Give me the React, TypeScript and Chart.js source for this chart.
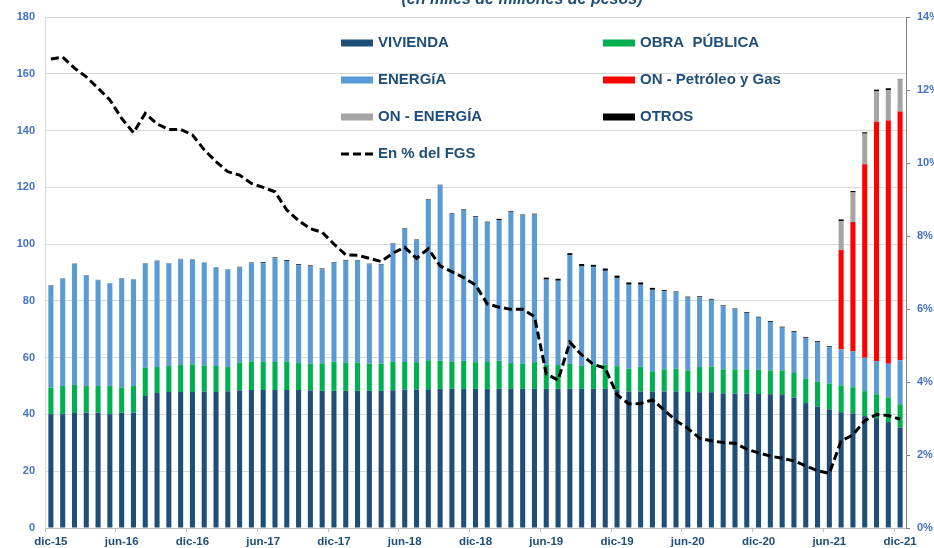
import React, { useEffect, useRef } from "react";
import { Chart, registerables } from "chart.js";

Chart.register(...registerables);

const months = [
  "dic-15",
  "ene-16", "feb-16", "mar-16", "abr-16", "may-16", "jun-16", "jul-16", "ago-16", "sep-16", "oct-16", "nov-16", "dic-16",
  "ene-17", "feb-17", "mar-17", "abr-17", "may-17", "jun-17", "jul-17", "ago-17", "sep-17", "oct-17", "nov-17", "dic-17",
  "ene-18", "feb-18", "mar-18", "abr-18", "may-18", "jun-18", "jul-18", "ago-18", "sep-18", "oct-18", "nov-18", "dic-18",
  "ene-19", "feb-19", "mar-19", "abr-19", "may-19", "jun-19", "jul-19", "ago-19", "sep-19", "oct-19", "nov-19", "dic-19",
  "ene-20", "feb-20", "mar-20", "abr-20", "may-20", "jun-20", "jul-20", "ago-20", "sep-20", "oct-20", "nov-20", "dic-20",
  "ene-21", "feb-21", "mar-21", "abr-21", "may-21", "jun-21", "jul-21", "ago-21", "sep-21", "oct-21", "nov-21", "dic-21",
];

const vivienda = [
  40.1, 40.1, 40.5, 40.6, 40.6, 40.1, 40.6, 40.6, 46.5, 47.6, 47.9, 47.9, 47.9,
  48.0, 47.9, 48.2, 48.4, 48.6, 48.6, 48.6, 48.6, 48.6, 48.4, 48.3, 48.3,
  48.3, 48.3, 48.3, 48.3, 48.5, 48.8, 48.8, 48.9, 49.0, 49.0, 49.0, 49.0,
  49.0, 49.0, 49.0, 49.0, 49.0, 49.0, 49.0, 49.0, 49.0, 49.0, 49.0, 48.6,
  48.1, 48.1, 48.1, 48.1, 48.1, 47.9, 47.8, 47.8, 47.5, 47.4, 47.4, 47.2,
  47.1, 46.9, 46.0, 44.0, 42.8, 41.8, 40.8, 40.4, 39.4, 38.7, 37.3, 35.4,
];

const obraPublica = [
  9.4, 9.9, 9.9, 9.4, 9.4, 9.9, 8.9, 9.4, 9.9, 9.1, 9.2, 9.5, 9.7,
  9.1, 9.2, 8.5, 9.8, 10.1, 9.9, 9.9, 10.1, 9.5, 9.5, 9.7, 10.3,
  10.0, 10.0, 9.6, 9.6, 10.0, 9.7, 9.6, 10.2, 9.9, 9.6, 9.9, 9.4,
  9.5, 9.9, 9.1, 8.9, 9.4, 8.6, 8.4, 8.8, 8.1, 8.4, 8.5, 8.4,
  8.0, 8.7, 7.1, 7.8, 8.0, 7.6, 8.9, 9.1, 8.4, 8.5, 8.5, 8.6,
  8.4, 8.6, 8.6, 8.7, 8.8, 9.1, 9.4, 9.2, 8.8, 8.4, 8.7, 8.2,
];

const energia = [
  36.0, 37.8, 42.6, 39.0, 37.3, 36.1, 38.4, 37.5, 36.8, 37.4, 36.1, 37.3, 37.0,
  36.3, 34.7, 34.3, 33.6, 34.6, 34.8, 36.5, 35.4, 34.5, 34.4, 33.2, 34.9,
  35.8, 35.9, 35.0, 34.9, 41.5, 46.8, 43.0, 56.5, 61.8, 51.9, 53.2, 51.1,
  49.1, 49.6, 53.3, 52.2, 52.0, 29.9, 29.7, 38.3, 35.2, 34.6, 33.1, 31.1,
  29.6, 28.9, 28.7, 27.5, 26.9, 25.7, 24.6, 23.5, 22.2, 21.1, 19.9, 18.3,
  17.1, 15.1, 14.5, 14.3, 13.9, 12.8, 12.7, 12.6, 11.8, 11.7, 11.9, 15.5,
];

const onPetroleoGas = [
  0, 0, 0, 0, 0, 0, 0, 0, 0, 0, 0, 0, 0,
  0, 0, 0, 0, 0, 0, 0, 0, 0, 0, 0, 0,
  0, 0, 0, 0, 0, 0, 0, 0, 0, 0, 0, 0,
  0, 0, 0, 0, 0, 0, 0, 0, 0, 0, 0, 0,
  0, 0, 0, 0, 0, 0, 0, 0, 0, 0, 0, 0,
  0, 0, 0, 0, 0, 0, 35.0, 45.6, 68.1, 84.3, 85.6, 87.6,
];

const onEnergia = [
  0, 0, 0, 0, 0, 0, 0, 0, 0, 0, 0, 0, 0,
  0, 0, 0, 0, 0, 0, 0, 0, 0, 0, 0, 0,
  0, 0, 0, 0, 0, 0, 0, 0, 0, 0, 0, 0,
  0, 0, 0, 0, 0, 0, 0, 0, 0, 0, 0, 0,
  0, 0, 0, 0, 0, 0, 0, 0, 0, 0, 0, 0,
  0, 0, 0, 0, 0, 0, 10.2, 10.4, 10.8, 10.7, 10.7, 11.3,
];

const otros = [
  0.1, 0.1, 0.1, 0.1, 0.1, 0.1, 0.1, 0.1, 0.1, 0.1, 0.1, 0.1, 0.1,
  0.1, 0.1, 0.1, 0.2, 0.2, 0.3, 0.3, 0.3, 0.3, 0.2, 0.2, 0.2,
  0.2, 0.2, 0.2, 0.2, 0.2, 0.2, 0.2, 0.2, 0.2, 0.3, 0.2, 0.3,
  0.3, 0.4, 0.3, 0.3, 0.3, 0.7, 0.7, 0.7, 0.7, 0.7, 0.8, 0.8,
  0.8, 0.8, 0.7, 0.4, 0.3, 0.3, 0.3, 0.3, 0.3, 0.3, 0.3, 0.3,
  0.3, 0.3, 0.3, 0.3, 0.3, 0.3, 0.6, 0.5, 0.5, 0.6, 0.7, 0.2,
];

const pctFGS = [
  12.85, 12.9, 12.6, 12.36, 12.05, 11.73, 11.22, 10.83, 11.36, 11.07, 10.92, 10.92, 10.77,
  10.36, 10.04, 9.76, 9.67, 9.44, 9.33, 9.21, 8.71, 8.42, 8.2, 8.1, 7.78,
  7.48, 7.47, 7.39, 7.3, 7.53, 7.69, 7.39, 7.65, 7.18, 7.02, 6.86, 6.66,
  6.14, 6.05, 5.99, 5.99, 5.79, 4.22, 4.05, 5.09, 4.74, 4.48, 4.38, 3.65,
  3.4, 3.41, 3.51, 3.23, 2.94, 2.73, 2.46, 2.39, 2.34, 2.32, 2.16, 2.06,
  1.97, 1.91, 1.84, 1.7, 1.57, 1.5, 2.39, 2.55, 2.94, 3.11, 3.08, 2.98,
];

const leftTicksStep = 20;
const rightTicksStep = 2;
const titleText = "(en miles de millones de pesos)";

const FONT = '"Liberation Sans", Arial, sans-serif';
const NAVY = "#1F4E79";
const TICK_BLUE = "#4472C4";

export default function App() {
  const ref = useRef<HTMLCanvasElement>(null);

  useEffect(() => {
    if (!ref.current) return;

    const titlePlugin = {
      id: "cutTitle",
      afterDraw(chart: any) {
        const ctx = chart.ctx;
        ctx.save();
        ctx.font = `italic bold 16px ${FONT}`;
        ctx.fillStyle = NAVY;
        ctx.textAlign = "center";
        ctx.textBaseline = "alphabetic";
        ctx.fillText(titleText, 522, 4);
        ctx.restore();
      },
    };

    const legendSlots = [
      { x: 341, y: 43 }, { x: 603, y: 43 },
      { x: 341, y: 80 }, { x: 603, y: 80 },
      { x: 341, y: 117 }, { x: 603, y: 117 },
      { x: 341, y: 154 },
    ];
    const legendOrder = [0, 1, 2, 3, 4, 5, 6];

    const legendPlugin = {
      id: "insideLegend",
      afterDraw(chart: any) {
        const ctx = chart.ctx;
        ctx.save();
        legendOrder.forEach((dsIndex, k) => {
          const ds = chart.data.datasets[dsIndex];
          const slot = legendSlots[k];
          if (ds.type === "line") {
            ctx.strokeStyle = ds.borderColor;
            ctx.lineWidth = 3;
            ctx.setLineDash([8, 4]);
            ctx.beginPath();
            ctx.moveTo(slot.x, slot.y);
            ctx.lineTo(slot.x + 32, slot.y);
            ctx.stroke();
            ctx.setLineDash([]);
          } else {
            ctx.fillStyle = ds.backgroundColor;
            ctx.fillRect(slot.x, slot.y - 3.5, 32, 7);
          }
          ctx.font = `bold 15px ${FONT}`;
          ctx.fillStyle = NAVY;
          ctx.textAlign = "left";
          ctx.textBaseline = "middle";
          ctx.fillText(ds.label, slot.x + 37, slot.y);
        });
        ctx.restore();
      },
    };

    const barCommon = {
      type: "bar" as const,
      yAxisID: "y",
      barPercentage: 0.43,
      categoryPercentage: 1.0,
      borderWidth: 0,
      order: 1,
    };

    const chart = new Chart(ref.current, {
      type: "bar",
      data: {
        labels: months,
        datasets: [
          { ...barCommon, label: "VIVIENDA", data: vivienda, backgroundColor: "#1F4E79" },
          { ...barCommon, label: "OBRA  PÚBLICA", data: obraPublica, backgroundColor: "#00B050" },
          { ...barCommon, label: "ENERGíA", data: energia, backgroundColor: "#5B9BD5" },
          { ...barCommon, label: "ON - Petróleo y Gas", data: onPetroleoGas, backgroundColor: "#FF0000" },
          { ...barCommon, label: "ON - ENERGÍA", data: onEnergia, backgroundColor: "#A5A5A5" },
          { ...barCommon, label: "OTROS", data: otros, backgroundColor: "#000000" },
          {
            type: "line",
            label: "En % del FGS",
            data: pctFGS,
            yAxisID: "y1",
            borderColor: "#000000",
            backgroundColor: "#000000",
            borderWidth: 3,
            borderDash: [8, 4],
            pointRadius: 0,
            tension: 0,
            fill: false,
            order: 0,
          } as any,
        ],
      },
      options: {
        responsive: false,
        animation: false,
        layout: { padding: { top: 17, left: 0, right: 0, bottom: 0 } },
        plugins: {
          legend: { display: false },
          tooltip: { enabled: false },
          title: { display: false },
        },
        scales: {
          x: {
            stacked: true,
            offset: true,
            grid: {
              offset: true,
              drawOnChartArea: false,
              drawTicks: true,
              tickLength: 4,
              color: (c: any) =>
                c.index !== undefined && c.index % 6 === 0 ? "#BFBFBF" : "rgba(0,0,0,0)",
            },
            border: { color: "#BFBFBF" },
            ticks: {
              autoSkip: false,
              maxRotation: 0,
              minRotation: 0,
              padding: 3,
              color: NAVY,
              font: { family: FONT, size: 11.5, weight: "bold" },
              callback: (_v: any, i: number) => (i % 6 === 0 ? months[i] : ""),
            },
            afterFit: (s: any) => {
              s.height = 20;
            },
          },
          y: {
            position: "left",
            stacked: true,
            min: 0,
            max: 180,
            ticks: {
              stepSize: leftTicksStep,
              color: TICK_BLUE,
              padding: 10,
              font: { family: FONT, size: 11, weight: "bold" },
            },
            grid: { color: "#D9D9D9", drawTicks: false },
            border: { color: "#D9D9D9" },
            afterFit: (s: any) => {
              s.width = 45;
            },
          },
          y1: {
            position: "right",
            min: 0,
            max: 14,
            ticks: {
              stepSize: rightTicksStep,
              color: TICK_BLUE,
              padding: 7,
              font: { family: FONT, size: 11, weight: "bold" },
              callback: (v: any) => `${v}%`,
            },
            grid: { drawOnChartArea: false, drawTicks: true, tickLength: 4, color: "#808080" },
            border: { color: "#808080" },
            afterFit: (s: any) => {
              s.width = 28;
            },
          },
        },
      } as any,
      plugins: [titlePlugin, legendPlugin],
    });

    return () => chart.destroy();
  }, []);

  return (
    <div style={{ position: "fixed", left: 0, top: 0, width: 934, height: 548, background: "#fff" }}>
      <canvas ref={ref} width={934} height={548} style={{ display: "block" }} />
    </div>
  );
}
